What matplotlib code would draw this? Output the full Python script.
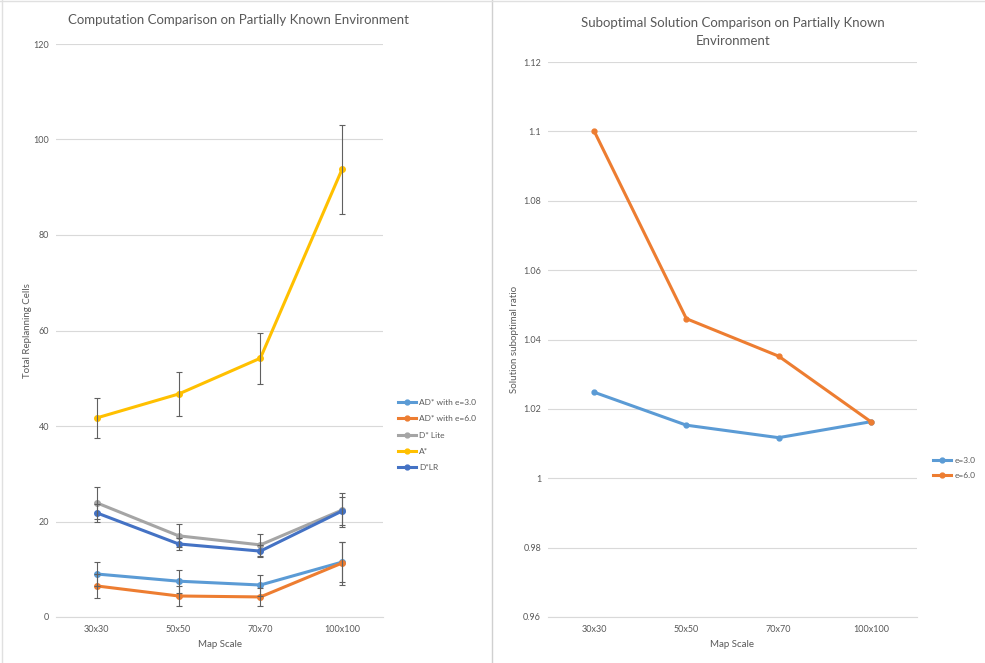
import matplotlib
matplotlib.use("Agg")
import matplotlib.pyplot as plt
from matplotlib.lines import Line2D

plt.rcParams['font.family'] = ['Lato', 'DejaVu Sans']

# Data
scales = ["30x30", "50x50", "70x70", "100x100"]

ad3 = [9.0, 7.5, 6.7, 11.5]
ad3_err = [2.6, 2.4, 2.2, 4.2]
ad6 = [6.5, 4.4, 4.2, 11.3]
ad6_err = [2.5, 2.0, 1.9, 4.5]
dlite = [23.9, 17.0, 15.1, 22.4]
dlite_err = [3.4, 2.4, 2.3, 3.5]
astar = [41.7, 46.7, 54.2, 93.8]
astar_err = [4.2, 4.6, 5.3, 9.3]
dlr = [21.8, 15.3, 13.8, 22.2]
dlr_err = [1.8, 1.2, 1.2, 3.0]

ratio_e3 = [1.0248, 1.0153, 1.0117, 1.0163]
ratio_e6 = [1.1001, 1.0460, 1.0352, 1.0163]

c_blue = '#5B9BD5'
c_orange = '#ED7D31'
c_gray = '#A5A5A5'
c_yellow = '#FFC000'
c_dblue = '#4472C4'
txt = '#595959'

W, H = 985, 663
fig = plt.figure(figsize=(W / 100, H / 100), dpi=100)


def px_axes(x0, y0, x1, y1):
    return fig.add_axes([x0 / W, 1 - y1 / H, (x1 - x0) / W, (y1 - y0) / H])


def style(ax):
    for s in ['top', 'right', 'left']:
        ax.spines[s].set_visible(False)
    ax.spines['bottom'].set_color('#D9D9D9')
    ax.grid(axis='y', color='#D9D9D9', linewidth=0.8)
    ax.set_axisbelow(True)
    ax.tick_params(axis='both', length=0, labelsize=6.5, colors=txt)
    ax.tick_params(axis='y', pad=5)
    ax.tick_params(axis='x', pad=6)


# Left chart
ax1 = px_axes(56, 44, 383, 617)
x = range(len(scales))
series = [
    (ad3, ad3_err, c_blue, "AD* with e=3.0"),
    (ad6, ad6_err, c_orange, "AD* with e=6.0"),
    (dlite, dlite_err, c_gray, "D* Lite"),
    (astar, astar_err, c_yellow, "A*"),
    (dlr, dlr_err, c_dblue, "D*LR"),
]
handles = []
for y, e, c, lab in series:
    ax1.plot(x, y, color=c, linewidth=2.2, marker='o', markersize=4, zorder=3)
    ax1.errorbar(x, y, yerr=e, fmt='none', ecolor='#606060', elinewidth=0.8,
                 capsize=2.5, capthick=0.8, zorder=4)
    handles.append(Line2D([], [], color=c, linewidth=2.2, marker='o', markersize=3.5, label=lab))
ax1.set_xlim(-0.5, 3.5)
ax1.set_ylim(0, 120)
ax1.set_yticks(range(0, 121, 20))
ax1.set_xticks(list(x))
ax1.set_xticklabels(scales)
style(ax1)
ax1.set_xlabel("Map Scale", fontsize=7, color=txt, labelpad=4)
ax1.set_ylabel("Total Replanning Cells", fontsize=7, color=txt, labelpad=1)
fig.text(238 / W, 1 - 20 / H, "Computation Comparison on Partially Known Environment",
         ha='center', va='center', fontsize=9.5, color=txt)
fig.legend(handles=handles, loc='center left', bbox_to_anchor=(390 / W, 1 - 435 / H),
           frameon=False, fontsize=6, labelcolor=txt, handlelength=2.2,
           handletextpad=0.4, labelspacing=1.1)

# Right chart
ax2 = px_axes(548, 62, 917, 617)
ax2.plot(x, ratio_e3, color=c_blue, linewidth=2.2, marker='o', markersize=3.5, zorder=3)
ax2.plot(x, ratio_e6, color=c_orange, linewidth=2.2, marker='o', markersize=3.5, zorder=3)
ax2.set_xlim(-0.5, 3.5)
ax2.set_ylim(0.96, 1.12)
ax2.set_yticks([0.96, 0.98, 1.0, 1.02, 1.04, 1.06, 1.08, 1.1, 1.12])
ax2.set_yticklabels(["0.96", "0.98", "1", "1.02", "1.04", "1.06", "1.08", "1.1", "1.12"])
ax2.set_xticks(list(x))
ax2.set_xticklabels(scales)
style(ax2)
ax2.set_xlabel("Map Scale", fontsize=7, color=txt, labelpad=4)
ax2.set_ylabel("Solution suboptimal ratio", fontsize=7, color=txt, labelpad=3)
fig.text(733 / W, 1 - 32 / H, "Suboptimal Solution Comparison on Partially Known\nEnvironment",
         ha='center', va='center', fontsize=9.5, color=txt, linespacing=1.6)
h2 = [Line2D([], [], color=c_blue, linewidth=2.2, marker='o', markersize=3.5, label="e=3.0"),
      Line2D([], [], color=c_orange, linewidth=2.2, marker='o', markersize=3.5, label="e=6.0")]
fig.legend(handles=h2, loc='center left', bbox_to_anchor=(925 / W, 1 - 468 / H),
           frameon=False, fontsize=6, labelcolor=txt, handlelength=2.2,
           handletextpad=0.4, labelspacing=1.0)

# panel borders like the screenshot
fig.add_artist(Line2D([492 / W, 492 / W], [0, 1], color='#D0D0D0', linewidth=1))
fig.add_artist(Line2D([2 / W, 2 / W], [0, 1], color='#E0E0E0', linewidth=1))
fig.add_artist(Line2D([0, 1], [1 - 1 / H, 1 - 1 / H], color='#E0E0E0', linewidth=1))

fig.savefig("out.png", dpi=100)
